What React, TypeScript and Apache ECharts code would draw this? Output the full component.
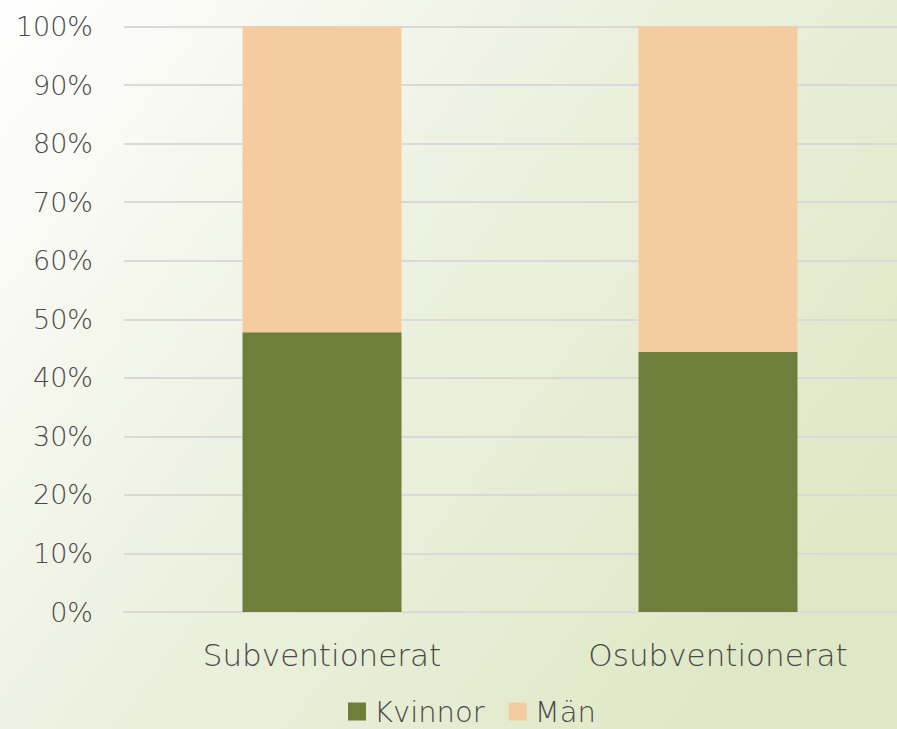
import React, { useEffect, useRef } from "react";
import * as echarts from "echarts";

const categories = ["Subventionerat", "Osubventionerat"];
const kvinnor = [47.8, 44.4];
const man = [52.2, 55.6];
const yTicks = [0, 10, 20, 30, 40, 50, 60, 70, 80, 90, 100];

const FONT = "'DejaVu Sans', sans-serif";
const TXT = "#4a4a4a";

export default function App() {
  const ref = useRef<HTMLDivElement>(null);
  useEffect(() => {
    if (!ref.current) return;
    const chart = echarts.init(ref.current, null, { renderer: "svg" });
    chart.setOption({
      animation: false,
      backgroundColor: new echarts.graphic.LinearGradient(0, 0, 1, 0.6, [
        { offset: 0, color: "#ffffff" },
        { offset: 0.45, color: "#eef2e2" },
        { offset: 1, color: "#dfe8c6" },
      ]),
      grid: { left: 124, right: 0, top: 26.5, bottom: 117, containLabel: false },
      legend: {
        left: 348,
        top: 697,
        padding: 0,
        icon: "rect",
        itemWidth: 18,
        itemHeight: 18,
        itemGap: 24,
        textStyle: {
          fontFamily: FONT,
          fontSize: 29,
          lineHeight: 24,
          color: TXT,
          fontWeight: 200,
          padding: [0, 0, 0, 3],
        },
        data: ["Kvinnor", "Män"],
      },
      xAxis: {
        type: "category",
        data: categories,
        axisLine: { lineStyle: { color: "#d9d9d9", width: 2 } },
        axisTick: { show: false },
        axisLabel: { fontFamily: FONT, fontSize: 31, color: TXT, margin: 27, fontWeight: 200 },
      },
      yAxis: {
        type: "value",
        min: 0,
        max: 100,
        interval: 10,
        axisLine: { show: false },
        axisTick: { show: false },
        splitLine: { lineStyle: { color: "#d9d9d9", width: 2 } },
        axisLabel: {
          fontFamily: FONT,
          fontSize: 27,
          color: TXT,
          margin: 31,
          fontWeight: 200,
          formatter: (v: number) => (yTicks.includes(v) ? v + "%" : ""),
        },
      },
      series: [
        {
          name: "Kvinnor",
          type: "bar",
          stack: "total",
          data: kvinnor,
          barWidth: 159,
          itemStyle: { color: "#6e7f3b" },
        },
        {
          name: "Män",
          type: "bar",
          stack: "total",
          data: man,
          barWidth: 159,
          itemStyle: { color: "#f5cba0" },
        },
      ],
    });
    return () => chart.dispose();
  }, []);
  return (
    <div style={{ position: "absolute", left: 0, top: 0, width: 897, height: 729, overflow: "hidden" }}>
      <div ref={ref} style={{ width: 916, height: 729 }} />
    </div>
  );
}
